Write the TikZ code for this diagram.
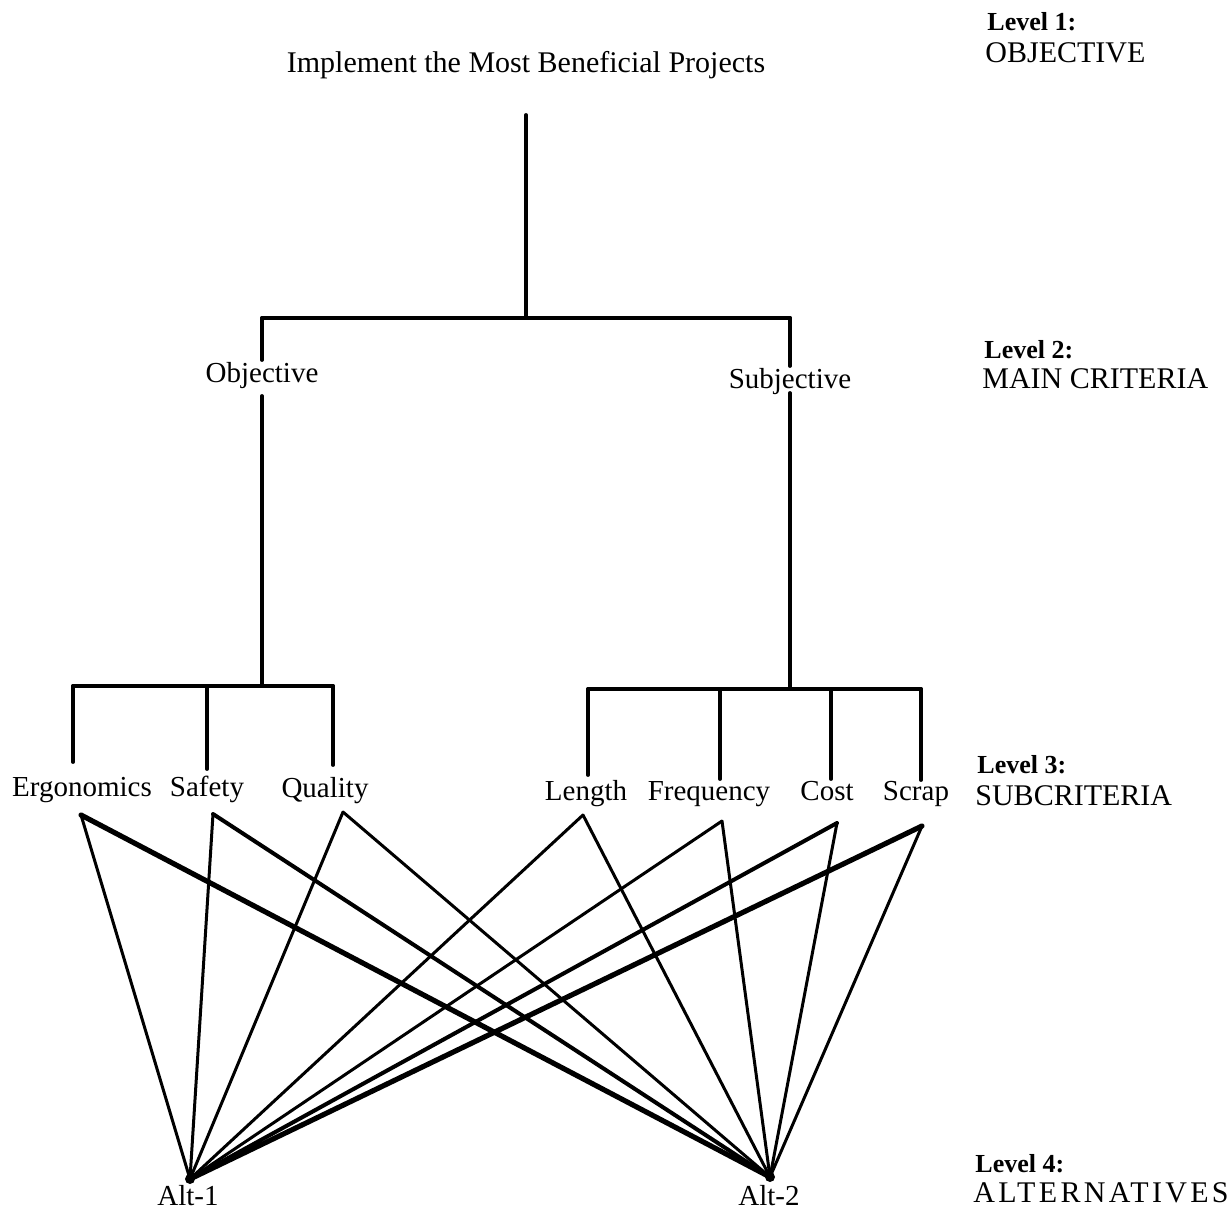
\documentclass[tikz,border=0pt]{standalone}
\usepackage{fontspec}
\setmainfont{Liberation Serif}
\begin{document}
\begin{tikzpicture}[x=0.5pt,y=-0.5pt,
  tree/.style={line width=1.9pt,line cap=round},
  link/.style={line width=1.5pt,line cap=round},
  heavy/.style={line width=2.6pt,line cap=round},
  medium/.style={line width=2pt,line cap=round},
  goaltext/.style={font=\fontsize{15}{18}\selectfont,inner sep=0pt,anchor=base},
  crit/.style={font=\fontsize{14.5}{17}\selectfont,inner sep=0pt,anchor=base},
  lvlhead/.style={font=\fontsize{13}{15}\selectfont\bfseries,inner sep=0pt,anchor=base west},
  lvlname/.style={font=\fontsize{15}{18}\selectfont,inner sep=0pt,anchor=base west}]
\useasboundingbox (0,0) rectangle (1232,1214);

% level 1: goal
\node[goaltext] (goal) at (526,73) {Implement the Most Beneficial Projects};
\coordinate (trunktop) at (526,115);
\coordinate (trunk) at (526,318);

% level 2: main criteria
\node[crit] (obj) at (262,382) {Objective};
\node[crit] (subj) at (790,388) {Subjective};
\coordinate (objup) at (262,318);
\coordinate (objin) at (262,360);
\coordinate (objout) at (262,396);
\coordinate (objbar) at (262,686);
\coordinate (subjup) at (790,318);
\coordinate (subjin) at (790,366);
\coordinate (subjout) at (790,393);
\coordinate (subjbar) at (790,689);

% level 3: subcriteria
\node[crit] (ergo) at (82,796) {Ergonomics};
\node[crit] (safe) at (207,796) {Safety};
\node[crit] (qual) at (325,797) {Quality};
\node[crit] (len) at (586,800) {Length};
\node[crit] (freq) at (709,800) {Frequency};
\node[crit] (cost) at (827,800) {Cost};
\node[crit] (scrap) at (916,800) {Scrap};

% drops from the bars onto the subcriteria
\coordinate (ergobar) at (73,686);   \coordinate (ergoin) at (73,762);
\coordinate (safebar) at (207,686);  \coordinate (safein) at (207,769);
\coordinate (qualbar) at (333,686);  \coordinate (qualin) at (333,765);
\coordinate (lenbar) at (588,689);   \coordinate (lenin) at (588,775);
\coordinate (freqbar) at (720,689);  \coordinate (freqin) at (720,779);
\coordinate (costbar) at (831,689);  \coordinate (costin) at (831,779);
\coordinate (scrapbar) at (921,689); \coordinate (scrapin) at (921,780);

% points where the subcriteria are tied to the alternatives
\coordinate (ergoout) at (81,815);
\coordinate (safeout) at (213,814);
\coordinate (qualout) at (343,812);
\coordinate (lenout) at (583,815);
\coordinate (freqout) at (722,821);
\coordinate (costout) at (837,823);
\coordinate (scrapout) at (922,826);

% level 4: alternatives
\node[crit] (alt1) at (188,1205) {Alt-1};
\node[crit] (alt2) at (769,1205) {Alt-2};
\coordinate (a1) at (190,1179);
\coordinate (a2) at (770,1177);

% hierarchy lines
\draw[tree] (trunktop) -- (trunk);
\draw[tree] (objup) -- (subjup);
\draw[tree] (objup) -- (objin);
\draw[tree] (subjup) -- (subjin);
\draw[tree] (objout) -- (objbar);
\draw[tree] (subjout) -- (subjbar);
\draw[tree] (ergobar) -- (qualbar);
\draw[tree] (lenbar) -- (scrapbar);
\draw[tree] (ergobar) -- (ergoin);
\draw[tree] (safebar) -- (safein);
\draw[tree] (qualbar) -- (qualin);
\draw[tree] (lenbar) -- (lenin);
\draw[tree] (freqbar) -- (freqin);
\draw[tree] (costbar) -- (costin);
\draw[tree] (scrapbar) -- (scrapin);

% every subcriterion to both alternatives
\draw[link] (ergoout) -- (a1);
\draw[heavy] (ergoout) -- (a2);
\draw[link] (safeout) -- (a1);
\draw[medium] (safeout) -- (a2);
\draw[link] (qualout) -- (a1);
\draw[link] (qualout) -- (a2);
\draw[link] (lenout) -- (a1);
\draw[link] (lenout) -- (a2);
\draw[link] (freqout) -- (a1);
\draw[link] (freqout) -- (a2);
\draw[medium] (costout) -- (a1);
\draw[link] (costout) -- (a2);
\draw[heavy] (scrapout) -- (a1);
\draw[link] (scrapout) -- (a2);
\fill (a1) circle (5);
\fill (a2) circle (5);

% level captions
\node[lvlhead] (l1h) at (987,31) {Level 1:};
\node[lvlname] (l1n) at (985,63) {OBJECTIVE};
\node[lvlhead] (l2h) at (984,358) {Level 2:};
\node[lvlname] (l2n) at (982,388) {MAIN CRITERIA};
\node[lvlhead] (l3h) at (977,773) {Level 3:};
\node[lvlname] (l3n) at (975,805) {SUBCRITERIA};
\node[lvlhead] (l4h) at (975,1172) {Level 4:};
\node[lvlname,font=\fontsize{15}{18}\selectfont\addfontfeatures{LetterSpace=11}] (l4n) at (973,1202) {ALTERNATIVES};
\end{tikzpicture}
\end{document}
